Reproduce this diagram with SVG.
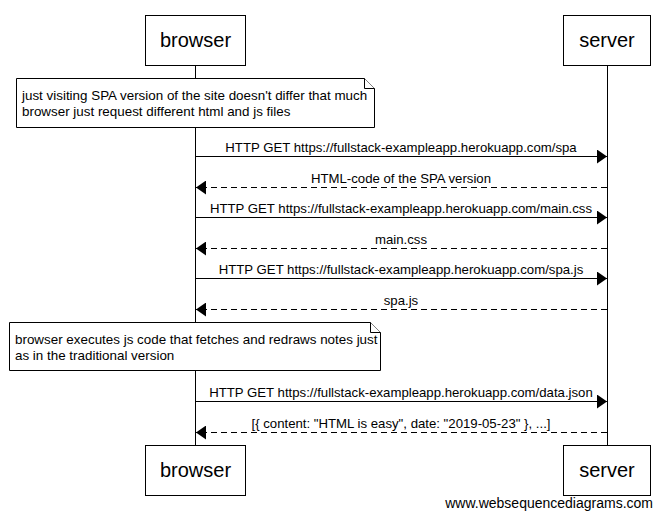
<svg xmlns="http://www.w3.org/2000/svg" width="664" height="518" viewBox="0 0 664 518">
<defs>
<style>
.box{fill:#fff;stroke:#000;stroke-width:1}
.life{stroke:#000;stroke-width:1}
.title{font-family:"Liberation Sans",Arial,sans-serif;font-size:20px;text-anchor:middle;fill:#000}
.lbl{font-family:"Liberation Sans",Arial,sans-serif;font-size:13.2px;text-anchor:middle;fill:#000}
.ntxt{font-family:"Liberation Sans",Arial,sans-serif;font-size:13.4px;fill:#000}
.msg{stroke:#000;stroke-width:1;fill:none}
.ret{stroke:#000;stroke-width:1;fill:none;stroke-dasharray:6,4}
.wm{font-family:"Liberation Sans",Arial,sans-serif;font-size:14px;text-anchor:end;fill:#000}
</style>
<marker id="ah" markerWidth="10" markerHeight="14" refX="10" refY="7" orient="auto" markerUnits="userSpaceOnUse">
<path d="M0,0 L10,7 L0,14 Z" fill="#000"/>
</marker>
</defs>
<rect width="664" height="518" fill="#fff"/>
<g id="lifelines">
<line class="life" x1="195.5" y1="65" x2="195.5" y2="445"/>
<line class="life" x1="607.5" y1="65" x2="607.5" y2="445"/>
</g>
<g id="browser-top">
<rect class="box" x="145.5" y="15.5" width="100" height="50"/>
<text class="title" x="195.5" y="47">browser</text>
</g>
<g id="server-top">
<rect class="box" x="563.5" y="15.5" width="87" height="50"/>
<text class="title" x="607" y="47">server</text>
</g>
<g id="note1">
<path class="box" d="M16.5,78.5 H364.5 L374.5,88.5 V127.5 H16.5 Z"/>
<path class="box" d="M364.5,78.5 V88.5 H374.5" fill="none"/>
<text class="ntxt" x="22" y="100">just visiting SPA version of the site doesn't differ that much</text>
<text class="ntxt" x="22" y="116">browser just request different html and js files</text>
</g>
<g id="note2">
<path class="box" d="M9.5,322.5 H370.5 L380.5,332.5 V370.5 H9.5 Z"/>
<path class="box" d="M370.5,322.5 V332.5 H380.5" fill="none"/>
<text class="ntxt" x="15" y="344">browser executes js code that fetches and redraws notes just</text>
<text class="ntxt" x="15" y="360">as in the traditional version</text>
</g>
<g id="connectors">
<line class="msg" x1="195.5" y1="156.5" x2="607" y2="156.5" marker-end="url(#ah)"/>
<text class="lbl" x="401" y="152">HTTP GET https://fullstack-exampleapp.herokuapp.com/spa</text>
<line class="ret" x1="607" y1="187.5" x2="196" y2="187.5" marker-end="url(#ah)"/>
<text class="lbl" x="401" y="183">HTML-code of the SPA version</text>
<line class="msg" x1="195.5" y1="217.5" x2="607" y2="217.5" marker-end="url(#ah)"/>
<text class="lbl" x="401" y="213">HTTP GET https://fullstack-exampleapp.herokuapp.com/main.css</text>
<line class="ret" x1="607" y1="248.5" x2="196" y2="248.5" marker-end="url(#ah)"/>
<text class="lbl" x="401" y="244">main.css</text>
<line class="msg" x1="195.5" y1="278.5" x2="607" y2="278.5" marker-end="url(#ah)"/>
<text class="lbl" x="401" y="274">HTTP GET https://fullstack-exampleapp.herokuapp.com/spa.js</text>
<line class="ret" x1="607" y1="309.5" x2="196" y2="309.5" marker-end="url(#ah)"/>
<text class="lbl" x="401" y="305">spa.js</text>
<line class="msg" x1="195.5" y1="401.5" x2="607" y2="401.5" marker-end="url(#ah)"/>
<text class="lbl" x="401" y="397">HTTP GET https://fullstack-exampleapp.herokuapp.com/data.json</text>
<line class="ret" x1="607" y1="432.5" x2="196" y2="432.5" marker-end="url(#ah)"/>
<text class="lbl" x="401" y="428">[{ content: "HTML is easy", date: "2019-05-23" }, ...]</text>
</g>
<g id="browser-bottom">
<rect class="box" x="145.5" y="445.5" width="100" height="50"/>
<text class="title" x="195.5" y="477">browser</text>
</g>
<g id="server-bottom">
<rect class="box" x="563.5" y="445.5" width="87" height="50"/>
<text class="title" x="607" y="477">server</text>
</g>
<text class="wm" x="653" y="508">www.websequencediagrams.com</text>
</svg>
